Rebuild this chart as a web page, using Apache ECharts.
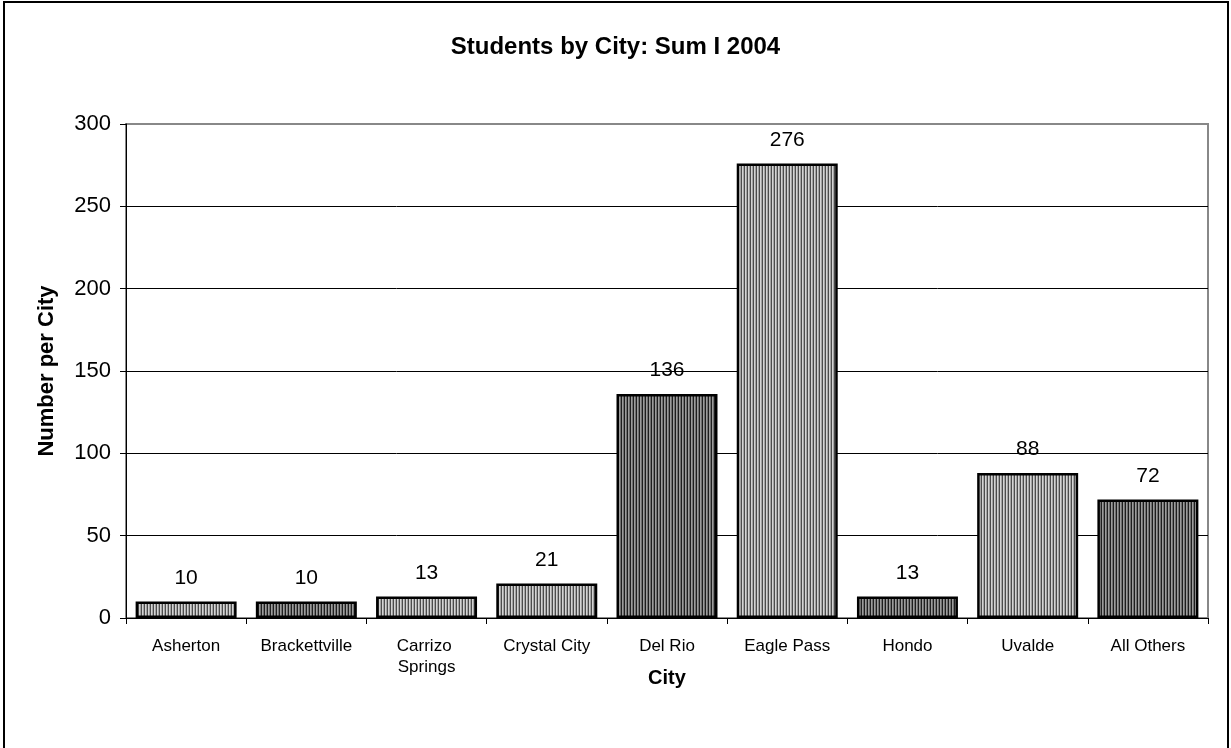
<!DOCTYPE html>
<html>
<head>
<meta charset="utf-8">
<script src="https://cdn.jsdelivr.net/npm/echarts@6/dist/echarts.min.js"></script>
<style>
html,body{margin:0;padding:0;background:#fff;}
#chart{width:1231px;height:748px;}
</style>
</head>
<body>
<div id="chart"></div>
<script>
const categories = ['Asherton', 'Brackettville', 'Carrizo Springs', 'Crystal City', 'Del Rio', 'Eagle Pass', 'Hondo', 'Uvalde', 'All Others'];
const students = [10, 10, 13, 21, 136, 276, 13, 88, 72];
const yTicks = [0, 50, 100, 150, 200, 250, 300];

function stripePattern(cols) {
  const c = document.createElement('canvas');
  c.width = cols.length; c.height = 4;
  const ctx = c.getContext('2d');
  cols.forEach((col, i) => { ctx.fillStyle = col; ctx.fillRect(i, 0, 1, 4); });
  return { image: c, repeat: 'repeat' };
}
const lightPat = stripePattern(['#4c4c4c', '#d4d4d4', '#a4a4a4']);
const darkPat = stripePattern(['#1e1e1e', '#9c9c9c', '#707070']);
const darkIdx = [1, 4, 6, 8];

const chart = echarts.init(document.getElementById('chart'), null, { renderer: 'canvas' });
const font = 'Arial, "Liberation Sans", sans-serif';
const splitColors = yTicks.map((t, i) => i === yTicks.length - 1 ? '#888' : '#000');
chart.setOption({
  animation: false,
  backgroundColor: '#fff',
  textStyle: { fontFamily: font },
  title: {
    text: 'Students by City: Sum I 2004',
    left: 'center', top: 30,
    textStyle: { fontSize: 24, fontWeight: 'bold', color: '#000', fontFamily: font }
  },
  graphic: [{
    type: 'rect', shape: { x: 4, y: 2, width: 1224, height: 760 },
    style: { fill: 'none', stroke: '#000', lineWidth: 2 }, silent: true
  }],
  grid: { left: 126, right: 23, top: 124, bottom: 130, show: true, borderColor: '#888', borderWidth: 2, backgroundColor: 'transparent' },
  xAxis: {
    type: 'category', data: categories,
    name: 'City', nameLocation: 'middle', nameGap: 50, nameMoveOverlap: false,
    nameTextStyle: { fontSize: 20, fontWeight: 'bold', color: '#000', fontFamily: font },
    axisLine: { lineStyle: { color: '#000', width: 1 } },
    axisTick: { show: true, alignWithLabel: false, length: 6, lineStyle: { color: '#000' } },
    axisLabel: { fontSize: 17, color: '#000', margin: 18, width: 100, overflow: 'break', lineHeight: 21, interval: 0, fontFamily: font }
  },
  yAxis: {
    type: 'value', min: yTicks[0], max: yTicks[yTicks.length - 1], interval: 50,
    name: 'Number per City', nameLocation: 'middle', nameGap: 68, nameMoveOverlap: false,
    nameTextStyle: { fontSize: 22, fontWeight: 'bold', color: '#000', fontFamily: font },
    axisLine: { show: true, lineStyle: { color: '#000', width: 1 } },
    axisTick: { show: true, length: 6, lineStyle: { color: '#000' } },
    axisLabel: { fontSize: 22, color: '#000', margin: 15, fontFamily: font },
    splitLine: { show: true, lineStyle: { color: splitColors, width: 1 } }
  },
  series: [{
    type: 'bar',
    barCategoryGap: '16%',
    data: students.map((v, i) => ({
      value: v,
      itemStyle: { color: darkIdx.includes(i) ? darkPat : lightPat }
    })),
    itemStyle: { borderColor: '#000', borderWidth: 2.5 },
    label: { show: true, position: 'top', distance: 13, fontSize: 21, color: '#000', fontFamily: font }
  }]
});
</script>
</body>
</html>
